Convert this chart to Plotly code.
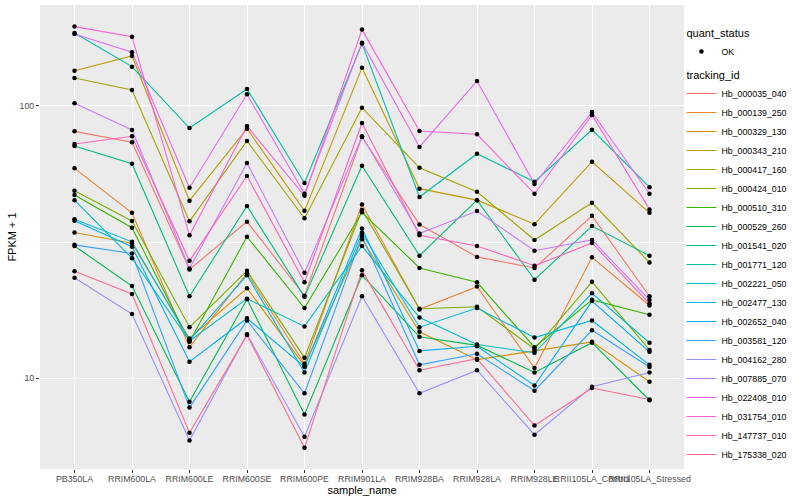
import plotly.graph_objects as go

samples = ["PB350LA", "RRIM600LA", "RRIM600LE", "RRIM600SE", "RRIM600PE", "RRIM901LA",
           "RRIM928BA", "RRIM928LA", "RRIM928LE", "RRII105LA_Control", "RRII105LA_Stressed"]

tracking_ids = ["Hb_000035_040", "Hb_000139_250", "Hb_000329_130", "Hb_000343_210", "Hb_000417_160",
                "Hb_000424_010", "Hb_000510_310", "Hb_000529_260", "Hb_001541_020", "Hb_001771_120",
                "Hb_002221_050", "Hb_002477_130", "Hb_002652_040", "Hb_003581_120", "Hb_004162_280",
                "Hb_007885_070", "Hb_022408_010", "Hb_031754_010", "Hb_147737_010", "Hb_175338_020"]

colors = ["#F8766D", "#EA8331", "#D89000", "#C09B00", "#A3A500", "#7CAE00", "#39B600", "#00BB4E",
          "#00BF7D", "#00C1A3", "#00BFC4", "#00BAE0", "#00B0F6", "#35A2FF", "#9590FF", "#C77CFF",
          "#E76BF3", "#FA62DB", "#FF62BC", "#FF6C91"]

# FPKM + 1 per sample
Hb_000035_040 = [80.7, 73.6, 25.1, 37.6, 20.1, 76.9, 36.7, 27.9, 25.4, 39.5, 20.0]
Hb_000139_250 = [59.0, 40.5, 13.0, 24.3, 11.3, 43.5, 17.9, 21.7, 10.9, 27.8, 18.5]
Hb_000329_130 = [34.3, 31.3, 14.0, 21.4, 11.1, 32.4, 14.8, 11.7, 12.6, 13.6, 9.7]
Hb_000343_210 = [134.8, 152.7, 44.9, 82.5, 41.2, 138.3, 49.7, 45.1, 36.8, 62.4, 40.5]
Hb_000417_160 = [126.7, 114.5, 37.7, 74.4, 38.7, 98.6, 59.3, 48.4, 32.2, 44.1, 26.6]
Hb_000424_010 = [48.8, 37.8, 15.4, 24.8, 11.9, 41.5, 18.0, 18.3, 12.8, 22.6, 12.7]
Hb_000510_310 = [47.1, 35.7, 13.6, 33.1, 18.1, 40.7, 25.4, 22.5, 13.0, 19.4, 17.1]
Hb_000529_260 = [30.6, 21.8, 8.2, 19.5, 7.35, 23.9, 14.2, 13.2, 10.5, 13.5, 8.3]
Hb_001541_020 = [71.3, 61.4, 20.0, 42.9, 19.9, 60.3, 28.2, 45.1, 23.0, 36.2, 28.2]
Hb_001771_120 = [185.5, 139.5, 83.0, 115.5, 52.1, 169.5, 46.3, 66.8, 52.7, 81.8, 50.3]
Hb_002221_050 = [45.1, 27.6, 13.7, 19.6, 15.5, 30.6, 16.7, 13.3, 12.4, 20.5, 13.5]
Hb_002477_130 = [38.4, 31.7, 13.8, 23.9, 10.5, 34.2, 15.4, 18.1, 14.1, 16.3, 11.2]
Hb_002652_040 = [37.9, 30.4, 11.5, 16.6, 11.0, 35.5, 12.6, 13.1, 9.4, 19.2, 12.5]
Hb_003581_120 = [30.9, 28.7, 7.8, 16.3, 8.8, 33.3, 11.2, 12.3, 9.0, 15.0, 11.0]
Hb_004162_280 = [23.4, 17.2, 5.9, 14.5, 6.1, 20.0, 8.8, 10.7, 6.2, 9.3, 10.5]
Hb_007885_070 = [102.3, 81.6, 25.3, 61.7, 24.4, 77.4, 34.0, 41.1, 29.4, 32.2, 19.4]
Hb_022408_010 = [184.0, 157.6, 50.1, 110.4, 47.6, 170.9, 70.7, 123.6, 51.7, 95.0, 47.6]
Hb_031754_010 = [195.7, 179.8, 33.5, 84.4, 46.8, 190.8, 80.9, 78.7, 47.6, 92.7, 41.7]
Hb_147737_010 = [72.5, 77.4, 27.0, 55.3, 22.5, 86.6, 33.5, 30.6, 25.9, 31.4, 18.8]
Hb_175338_020 = [24.7, 20.4, 6.3, 14.4, 5.55, 24.9, 10.7, 11.8, 6.7, 9.2, 8.35]

series = [Hb_000035_040, Hb_000139_250, Hb_000329_130, Hb_000343_210, Hb_000417_160,
          Hb_000424_010, Hb_000510_310, Hb_000529_260, Hb_001541_020, Hb_001771_120,
          Hb_002221_050, Hb_002477_130, Hb_002652_040, Hb_003581_120, Hb_004162_280,
          Hb_007885_070, Hb_022408_010, Hb_031754_010, Hb_147737_010, Hb_175338_020]

FONT = "Liberation Sans, Arial, sans-serif"
fig = go.Figure()

for i, (tid, vals, col) in enumerate(zip(tracking_ids, series, colors)):
    fig.add_trace(go.Scatter(
        x=samples, y=vals, mode="lines", name=tid,
        line=dict(color=col, width=1.1),
        legendgroup="tracking_id", legendgrouptitle_text="tracking_id",
        legendrank=100 + i, hoverinfo="x+y+name"))

px, py = [], []
for vals in series:
    px.extend(samples)
    py.extend(vals)
fig.add_trace(go.Scatter(
    x=px, y=py, mode="markers", name="OK",
    marker=dict(color="black", size=4.5, symbol="circle"),
    legendgroup="quant_status", legendgrouptitle_text="quant_status",
    legendrank=1))

fig.update_layout(
    width=800, height=500,
    margin=dict(l=40, r=116, t=5, b=31),
    paper_bgcolor="white", plot_bgcolor="#EBEBEB",
    font=dict(family=FONT, size=9, color="#000000"),
    showlegend=True,
    legend=dict(
        x=0.996, xanchor="left", y=0.972, yanchor="top",
        traceorder="grouped", tracegroupgap=4,
        font=dict(size=8.8, color="#000000", family=FONT),
        grouptitlefont=dict(size=11, color="#000000", family=FONT),
        itemwidth=30, bgcolor="rgba(0,0,0,0)"),
    xaxis=dict(
        type="category", categoryorder="array", categoryarray=samples,
        range=[-0.6, 10.6], showgrid=True, gridcolor="white", gridwidth=1.1,
        zeroline=False, showline=False,
        ticks="outside", ticklen=3, tickcolor="#333333", tickwidth=1,
        tickfont=dict(size=8.8, color="#4D4D4D", family=FONT),
        tickangle=0, ticklabelstandoff=-2,
        title=dict(text="sample_name", font=dict(size=11, color="#000000", family=FONT), standoff=0),
        automargin=False),
    yaxis=dict(
        type="log", range=[0.6665, 2.371],
        tickvals=[10, 100], ticktext=["10", "100"],
        showgrid=True, gridcolor="white", gridwidth=1.1,
        minor=dict(tickmode="array", tickvals=[3.1623, 31.623, 316.23], showgrid=True,
                   gridcolor="white", gridwidth=0.5, ticklen=0),
        zeroline=False, showline=False,
        ticks="outside", ticklen=3, tickcolor="#333333", tickwidth=1,
        tickfont=dict(size=8.8, color="#4D4D4D", family=FONT),
        title=dict(text="FPKM + 1", font=dict(size=11, color="#000000", family=FONT), standoff=0),
        automargin=False),
)

fig.write_html("out.html", config={"displayModeBar": False},
               post_script="document.body.style.margin='0';")
